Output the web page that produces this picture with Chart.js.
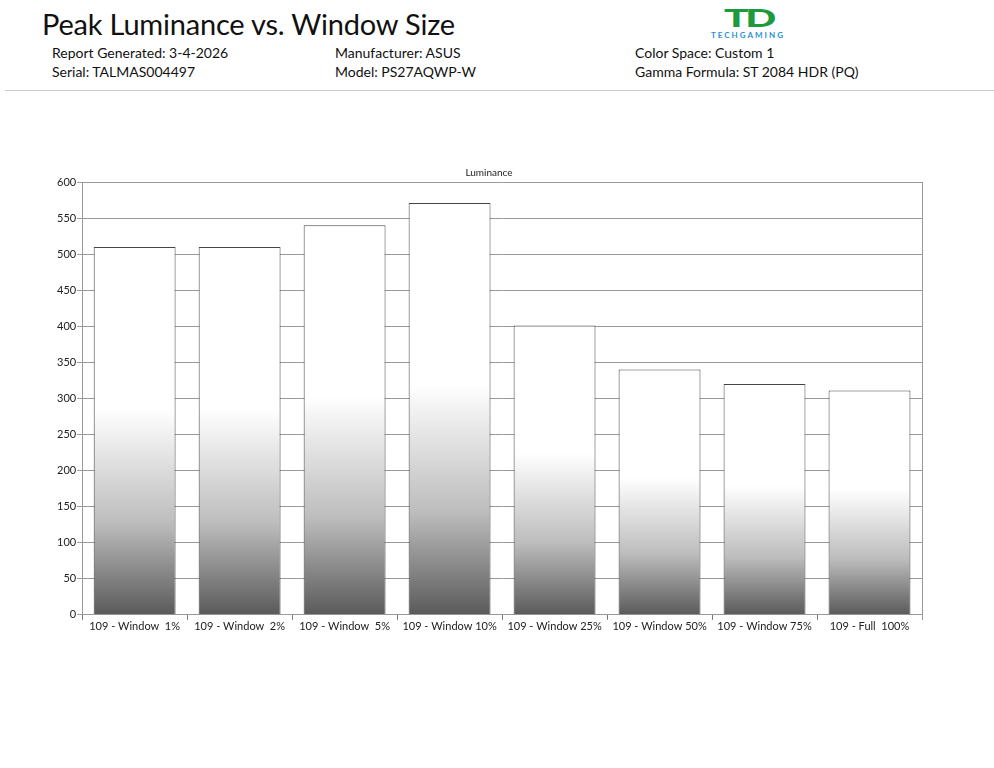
<!DOCTYPE html>
<html lang="en">

<head>
    <meta charset="UTF-8">
    <title>Peak Luminance vs. Window Size</title>
    <style>
        body { margin: 0; background: #fff; font-family: Lato, "Open Sans", sans-serif; color: #111; }
        #page { position: relative; width: 994px; height: 768px; }
        h1 { position: absolute; left: 42px; top: 6px; margin: 0; font-weight: 400; font-size: 29px; letter-spacing: -0.2px; }
        .info { position: absolute; font-size: 14px; line-height: 19px; }
        .rule { position: absolute; left: 5px; right: 0; top: 90px; border-top: 1px solid #ccc; }
        .logo { position: absolute; left: 693px; top: 7px; width: 110px; text-align: center; }
        .logo .td { display: inline-block; color: #1c9a3c; font-weight: 900; font-size: 24px; line-height: 22px; letter-spacing: -2px; transform: scaleX(1.7); }
        .logo .tg { color: #2b8fd3; font-size: 8px; letter-spacing: 2px; line-height: 10px; font-weight: 700; }
        #wrap { position: absolute; left: 0; top: 161px; width: 994px; height: 472px; }
    </style>
</head>

<body>
<div id="page">
    <h1>Peak Luminance vs. Window Size</h1>
    <div class="logo"><div class="td">TD</div><div class="tg">TECHGAMING</div></div>
    <div class="info" style="left:52px; top:43px">Report Generated: 3-4-2026<br>Serial: TALMAS004497</div>
    <div class="info" style="left:335px; top:43px">Manufacturer: ASUS<br>Model: PS27AQWP-W</div>
    <div class="info" style="left:635px; top:43px">Color Space: Custom 1<br>Gamma Formula: ST 2084 HDR (PQ)</div>
    <div class="rule"></div>
    <div id="wrap"><canvas id="chart"></canvas></div>
</div>

<script src="https://cdn.jsdelivr.net/npm/chart.js"></script>
<script>
    // data
    const categories = ['109 - Window  1%', '109 - Window  2%', '109 - Window  5%', '109 - Window 10%',
        '109 - Window 25%', '109 - Window 50%', '109 - Window 75%', '109 - Full  100%'];
    const luminance = [510, 510, 540, 571, 401, 340, 320, 311];
    const yTicks = [0, 50, 100, 150, 200, 250, 300, 350, 400, 450, 500, 550, 600];

    // white at the top half of each bar, fading to dark grey at the base
    function barFill(ctx) {
        const chart = ctx.chart;
        const y = chart.scales.y;
        if (!y || ctx.raw == null) return '#bbb';
        const top = y.getPixelForValue(ctx.raw);
        const base = y.getPixelForValue(0);
        if (!isFinite(top) || !isFinite(base) || base <= top) return '#bbb';
        const g = chart.ctx.createLinearGradient(0, top, 0, base);
        g.addColorStop(0, '#ffffff');
        g.addColorStop(0.44, '#ffffff');
        g.addColorStop(0.75, '#bdbdbd');
        g.addColorStop(1, '#5a5a5a');
        return g;
    }

    const rightEdge = {
        id: 'rightEdge',
        afterDraw(chart) {
            const a = chart.chartArea, c = chart.ctx;
            c.save();
            c.strokeStyle = '#999';
            c.lineWidth = 1;
            c.beginPath();
            c.moveTo(Math.round(a.right) + 0.5, a.top);
            c.lineTo(Math.round(a.right) + 0.5, a.bottom + 5);
            c.stroke();
            c.restore();
        }
    };

    new Chart(document.getElementById('chart'), {
        type: 'bar',
        data: {
            labels: categories,
            datasets: [{
                label: 'Luminance',
                data: luminance,
                backgroundColor: barFill,
                borderColor: '#444',
                borderWidth: 1,
                borderSkipped: 'bottom',
                barPercentage: 0.78,
                categoryPercentage: 1
            }]
        },
        options: {
            responsive: true,
            maintainAspectRatio: false,
            animation: false,
            layout: { padding: { left: 56, right: 72, top: 0, bottom: 0 } },
            plugins: {
                legend: { display: false },
                tooltip: { enabled: false },
                title: {
                    display: true,
                    text: 'Luminance',
                    color: '#222',
                    font: { family: 'Lato', size: 10, weight: 'normal' },
                    padding: { top: 6, bottom: 3 }
                }
            },
            scales: {
                x: {
                    grid: { drawOnChartArea: false, color: '#777', tickLength: 5, offset: true },
                    border: { color: '#999' },
                    ticks: { color: '#222', font: { family: 'Lato', size: 11 }, maxRotation: 0, padding: 0 }
                },
                y: {
                    min: 0,
                    max: 600,
                    afterBuildTicks: (s) => { s.ticks = yTicks.map(v => ({ value: v })); },
                    grid: { color: '#999', tickLength: 5 },
                    border: { color: '#999' },
                    ticks: { color: '#222', font: { family: 'Lato', size: 11 }, padding: 1 }
                }
            }
        },
        plugins: [rightEdge]
    });
</script>
</body>

</html>
